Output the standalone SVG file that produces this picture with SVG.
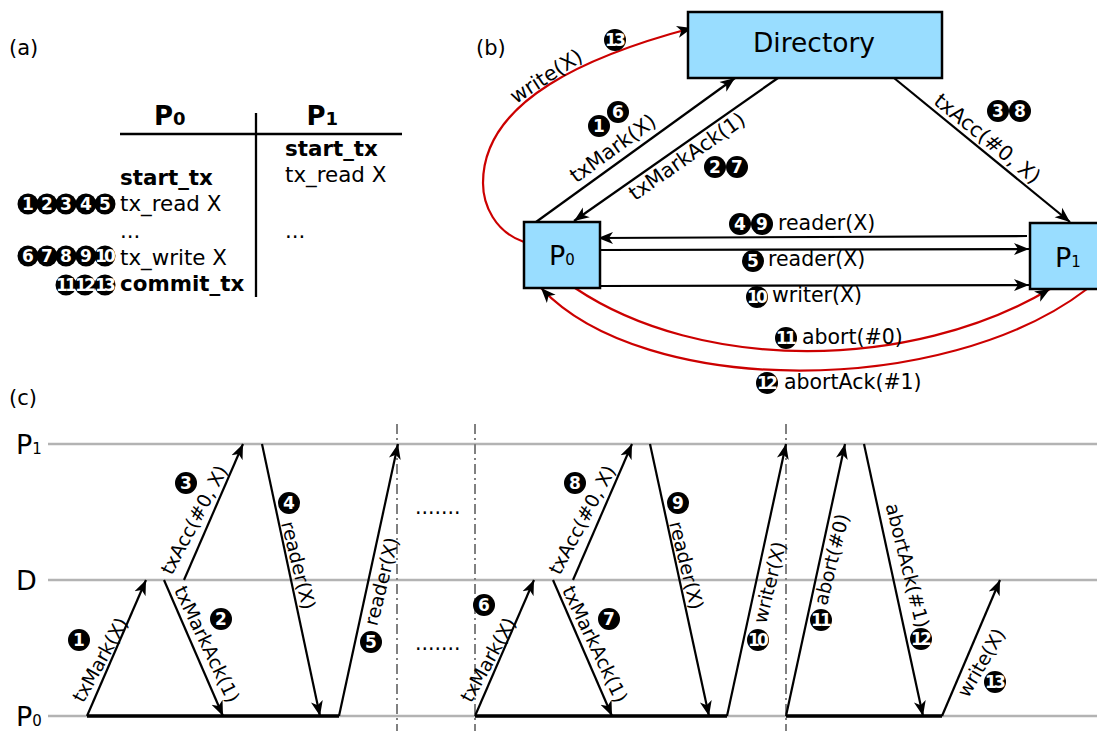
<svg xmlns="http://www.w3.org/2000/svg" width="1097" height="731" viewBox="0 0 1097 731">
<style>
text{font-family:"DejaVu Sans",sans-serif;fill:#000}
.t{font-size:20.5px}
.s{font-size:19px}
.m{text-anchor:middle}
.b{font-weight:bold}
.a{font-size:21.4px}
.p{font-size:21px}
.box{fill:#99ddff;stroke:#000;stroke-width:2.5}
.k{fill:none;stroke:#000;stroke-width:2.3}
.ka{fill:none;stroke:#000;stroke-width:2.2;marker-end:url(#ah)}
.ra{fill:none;stroke:#cc0000;stroke-width:2.2;marker-end:url(#ah)}
.g{stroke:#b3b3b3;stroke-width:2.5;fill:none}
.d{stroke:#808080;stroke-width:2;stroke-dasharray:10 4 2 4;fill:none}
.c circle{fill:#000;r:11px}
.c text{fill:#fff;font-weight:bold;font-size:17px;text-anchor:middle}
.c text.w{font-size:17px;letter-spacing:-2.8px}
</style>
<defs>
<marker id="ah" markerUnits="userSpaceOnUse" markerWidth="17" markerHeight="14" refX="15" refY="6" orient="auto" viewBox="0 0 17 12">
<path d="M0,0 L15,6 L0,12 L4,6 Z" fill="#000"/>
</marker>
</defs>
<g id="panel-labels">
<text class="p" x="9" y="55">(a)</text>
<text class="p" x="476" y="55">(b)</text>
<text class="p" x="9" y="405">(c)</text>
</g>
<g id="table">
<path class="k" d="M120,134 H402 M256,113 V297"/>
<text class="b" x="154" y="125" font-size="26">P<tspan font-size="18">0</tspan></text>
<text class="b" x="306.5" y="125" font-size="26">P<tspan font-size="18">1</tspan></text>
<text class="a b" x="285" y="156">start_tx</text>
<text class="a" x="285" y="182">tx_read X</text>
<text class="a b" x="120" y="185">start_tx</text>
<text class="a" x="120" y="211">tx_read X</text>
<text class="a" x="120" y="238">...</text>
<text class="a" x="285" y="238">...</text>
<text class="a" x="120" y="265">tx_write X</text>
<text class="a b" x="120" y="291">commit_tx</text>
<g class="c"><circle cx="28" cy="204" style="r:10.5px"/><text x="28" y="210">1</text></g>
<g class="c"><circle cx="47" cy="204" style="r:10.5px"/><text x="47" y="210">2</text></g>
<g class="c"><circle cx="66" cy="204" style="r:10.5px"/><text x="66" y="210">3</text></g>
<g class="c"><circle cx="86" cy="204" style="r:10.5px"/><text x="86" y="210">4</text></g>
<g class="c"><circle cx="105" cy="204" style="r:10.5px"/><text x="105" y="210">5</text></g>
<g class="c"><circle cx="28" cy="256" style="r:10.5px"/><text x="28" y="262">6</text></g>
<g class="c"><circle cx="47" cy="256" style="r:10.5px"/><text x="47" y="262">7</text></g>
<g class="c"><circle cx="66" cy="256" style="r:10.5px"/><text x="66" y="262">8</text></g>
<g class="c"><circle cx="86" cy="256" style="r:10.5px"/><text x="86" y="262">9</text></g>
<g class="c"><circle cx="105" cy="256" style="r:10.5px"/><text class="w" x="104" y="262">10</text></g>
<g class="c"><circle cx="66" cy="285" style="r:10.5px"/><text class="w" x="65" y="291">11</text></g>
<g class="c"><circle cx="85" cy="285" style="r:10.5px"/><text class="w" x="84" y="291">12</text></g>
<g class="c"><circle cx="105" cy="285" style="r:10.5px"/><text class="w" x="104" y="291">13</text></g>
</g>
<g id="connectors-b">
<path class="ka" d="M536,222 L735,78"/>
<path class="ka" d="M778,78 L574,221"/>
<path class="ka" d="M894,78 L1070,222"/>
<path class="ka" d="M1027,236 L598,238"/>
<path class="ka" d="M600,250 L1029,249"/>
<path class="ka" d="M600,286 L1029,285"/>
<path class="ra" d="M524,242 C495,232 483,205 483,183 C483,100 590,55 692,28"/>
<path class="ra" d="M575,288 C700,372 910,372 1050,289"/>
<path class="ra" d="M1087,289 C945,398 644,398 541,288"/>
</g>
<g id="directory"><rect class="box" x="688" y="12" width="254" height="66"/><text x="814" y="52" font-size="26.5" class="m">Directory</text></g>
<g id="p0"><rect class="box" x="524" y="222" width="76" height="66"/><text x="549" y="265" font-size="27">P<tspan font-size="15">0</tspan></text></g>
<g id="p1"><rect class="box" x="1030" y="223" width="76" height="66"/><text x="1055" y="267" font-size="27">P<tspan font-size="15">1</tspan></text></g>
<g id="labels-b">
<text class="t m" transform="translate(550,82) rotate(-33)">write(X)</text>
<text class="t m" transform="translate(617,154) rotate(-36)">txMark(X)</text>
<text class="t m" transform="translate(691,162) rotate(-35)">txMarkAck(1)</text>
<text class="t m" transform="translate(983,144) rotate(39)">txAcc(#0, X)</text>
<text class="t" x="778" y="230">reader(X)</text>
<text class="t" x="768" y="266">reader(X)</text>
<text class="t" x="772" y="302">writer(X)</text>
<text class="t" x="802" y="344">abort(#0)</text>
<text class="t" x="784" y="389">abortAck(#1)</text>
<g class="c"><circle cx="615" cy="40"/><text class="w" x="614" y="46">13</text></g>
<g class="c"><circle cx="599" cy="126"/><text x="599" y="132">1</text></g>
<g class="c"><circle cx="618" cy="112"/><text x="618" y="118">6</text></g>
<g class="c"><circle cx="715" cy="167"/><text x="715" y="173">2</text></g>
<g class="c"><circle cx="737" cy="167"/><text x="737" y="173">7</text></g>
<g class="c"><circle cx="998" cy="111"/><text x="998" y="117">3</text></g>
<g class="c"><circle cx="1020" cy="111"/><text x="1020" y="117">8</text></g>
<g class="c"><circle cx="740" cy="224"/><text x="740" y="230">4</text></g>
<g class="c"><circle cx="762" cy="224"/><text x="762" y="230">9</text></g>
<g class="c"><circle cx="753" cy="261"/><text x="753" y="267">5</text></g>
<g class="c"><circle cx="757" cy="297"/><text class="w" x="756" y="303">10</text></g>
<g class="c"><circle cx="786" cy="338"/><text class="w" x="785" y="344">11</text></g>
<g class="c"><circle cx="767" cy="383"/><text class="w" x="766" y="389">12</text></g>
</g>
<g id="timeline">
<path class="g" d="M48,444 H1097 M48,580 H1097 M48,716 H1097"/>
<path class="d" d="M397,424 V731 M475,424 V731 M786,424 V731"/>
<path class="k" style="stroke-width:3.5" d="M87,716 H339 M475,716 H727 M786,716 H942"/>
<text x="16" y="454" font-size="27">P<tspan font-size="15">1</tspan></text>
<text x="16" y="590" font-size="27">D</text>
<text x="16" y="726" font-size="27">P<tspan font-size="15">0</tspan></text>
<text class="t" x="415" y="514">.......</text>
<text class="t" x="415" y="650">.......</text>
</g>
<g id="connectors-c">
<path class="ka" d="M87,716 L146,580"/><path class="ka" d="M164,580 L223,716"/><path class="ka" d="M184,580 L243,444"/><path class="ka" d="M262,444 L320,716"/><path class="ka" d="M339,716 L398,444"/>
<path class="ka" d="M475,716 L534,580"/><path class="ka" d="M553,580 L612,716"/><path class="ka" d="M573,580 L632,444"/><path class="ka" d="M650,444 L709,716"/><path class="ka" d="M727,716 L786,444"/>
<path class="ka" d="M786,716 L845,444"/><path class="ka" d="M864,444 L923,716"/><path class="ka" d="M942,716 L1000,580"/>
</g>
<g id="labels-c">
<text class="s m" transform="translate(106,663) rotate(-61)">txMark(X)</text>
<text class="s m" transform="translate(494,663) rotate(-61)">txMark(X)</text>
<text class="s m" transform="translate(200,523) rotate(-62)">txAcc(#0, X)</text>
<text class="s m" transform="translate(588,523) rotate(-62)">txAcc(#0, X)</text>
<text class="s m" transform="translate(201,647) rotate(64.5)">txMarkAck(1)</text>
<text class="s m" transform="translate(589,647) rotate(64.5)">txMarkAck(1)</text>
<text class="s m" transform="translate(292,567) rotate(76)">reader(X)</text>
<text class="s m" transform="translate(680,567) rotate(76)">reader(X)</text>
<text class="s m" transform="translate(388,583) rotate(-76)">reader(X)</text>
<text class="s m" transform="translate(776,584) rotate(-76)">writer(X)</text>
<text class="s m" transform="translate(838,561) rotate(-76)">abort(#0)</text>
<text class="s m" transform="translate(901,567) rotate(76)">abortAck(#1)</text>
<text class="s m" transform="translate(987,666) rotate(-60)">write(X)</text>
<g class="c"><circle cx="79" cy="640"/><text x="79" y="646">1</text></g>
<g class="c"><circle cx="221" cy="619"/><text x="221" y="625">2</text></g>
<g class="c"><circle cx="186" cy="483"/><text x="186" y="489">3</text></g>
<g class="c"><circle cx="289" cy="503"/><text x="289" y="509">4</text></g>
<g class="c"><circle cx="371" cy="642"/><text x="371" y="648">5</text></g>
<g class="c"><circle cx="484" cy="605"/><text x="484" y="611">6</text></g>
<g class="c"><circle cx="609" cy="619"/><text x="609" y="625">7</text></g>
<g class="c"><circle cx="575" cy="483"/><text x="575" y="489">8</text></g>
<g class="c"><circle cx="678" cy="503"/><text x="678" y="509">9</text></g>
<g class="c"><circle cx="758" cy="640"/><text class="w" x="757" y="646">10</text></g>
<g class="c"><circle cx="821" cy="620"/><text class="w" x="820" y="626">11</text></g>
<g class="c"><circle cx="921" cy="639"/><text class="w" x="920" y="645">12</text></g>
<g class="c"><circle cx="995" cy="682"/><text class="w" x="994" y="688">13</text></g>
</g>
</svg>
